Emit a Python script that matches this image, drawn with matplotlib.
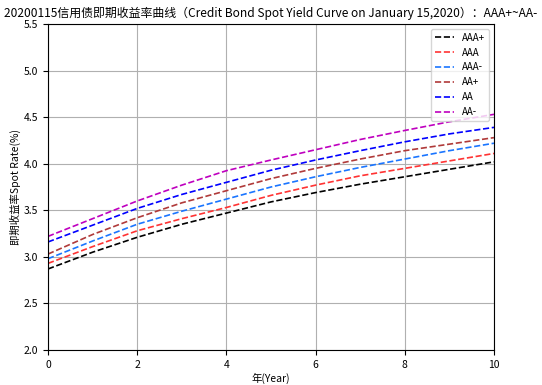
import matplotlib
matplotlib.use("Agg")
import matplotlib.pyplot as plt

plt.rcParams['font.family'] = ['Noto Sans CJK SC', 'DejaVu Sans']
plt.rcParams['axes.unicode_minus'] = False

years = [0, 1, 2, 3, 4, 5, 6, 7, 8, 9, 10]
aaa_plus = [2.87, 3.05, 3.21, 3.35, 3.47, 3.59, 3.69, 3.78, 3.86, 3.94, 4.02]
aaa = [2.93, 3.11, 3.28, 3.41, 3.53, 3.66, 3.77, 3.87, 3.95, 4.03, 4.11]
aaa_minus = [2.98, 3.17, 3.35, 3.49, 3.62, 3.75, 3.86, 3.96, 4.05, 4.14, 4.22]
aa_plus = [3.03, 3.24, 3.42, 3.58, 3.71, 3.84, 3.95, 4.05, 4.14, 4.21, 4.28]
aa = [3.16, 3.34, 3.52, 3.67, 3.80, 3.93, 4.04, 4.14, 4.235, 4.32, 4.39]
aa_minus = [3.22, 3.41, 3.60, 3.77, 3.925, 4.04, 4.15, 4.26, 4.357, 4.45, 4.53]

series = [("AAA+", aaa_plus, "black"), ("AAA", aaa, "#ff3333"),
          ("AAA-", aaa_minus, "#1a75ff"), ("AA+", aa_plus, "#b03a3a"),
          ("AA", aa, "blue"), ("AA-", aa_minus, "#bf00bf")]

fig = plt.figure(figsize=(5.42, 3.85), dpi=100)
ax = fig.add_axes([0.0886, 0.0909, 0.8228, 0.8468])

for name, vals, col in series:
    ax.plot(years, vals, "--", color=col, label=name, linewidth=1.2)

ax.set_xlim(0, 10)
ax.set_ylim(2.0, 5.5)
ax.set_xticks([0, 2, 4, 6, 8, 10])
ax.set_yticks([2.0, 2.5, 3.0, 3.5, 4.0, 4.5, 5.0, 5.5])
ax.tick_params(labelsize=7.5)
ax.grid(True, color="#b0b0b0")
ax.set_xlabel("年(Year)", fontsize=7.5, labelpad=2)
ax.set_ylabel("即期收益率Spot Rate(%)", fontsize=7.5, labelpad=2)
ax.set_title("20200115信用债即期收益率曲线（Credit Bond Spot Yield Curve on January 15,2020）：AAA+~AA-",
             fontsize=8.6, pad=5)
ax.legend(loc="upper right", fontsize=7)

fig.savefig("out.png", dpi=100)
